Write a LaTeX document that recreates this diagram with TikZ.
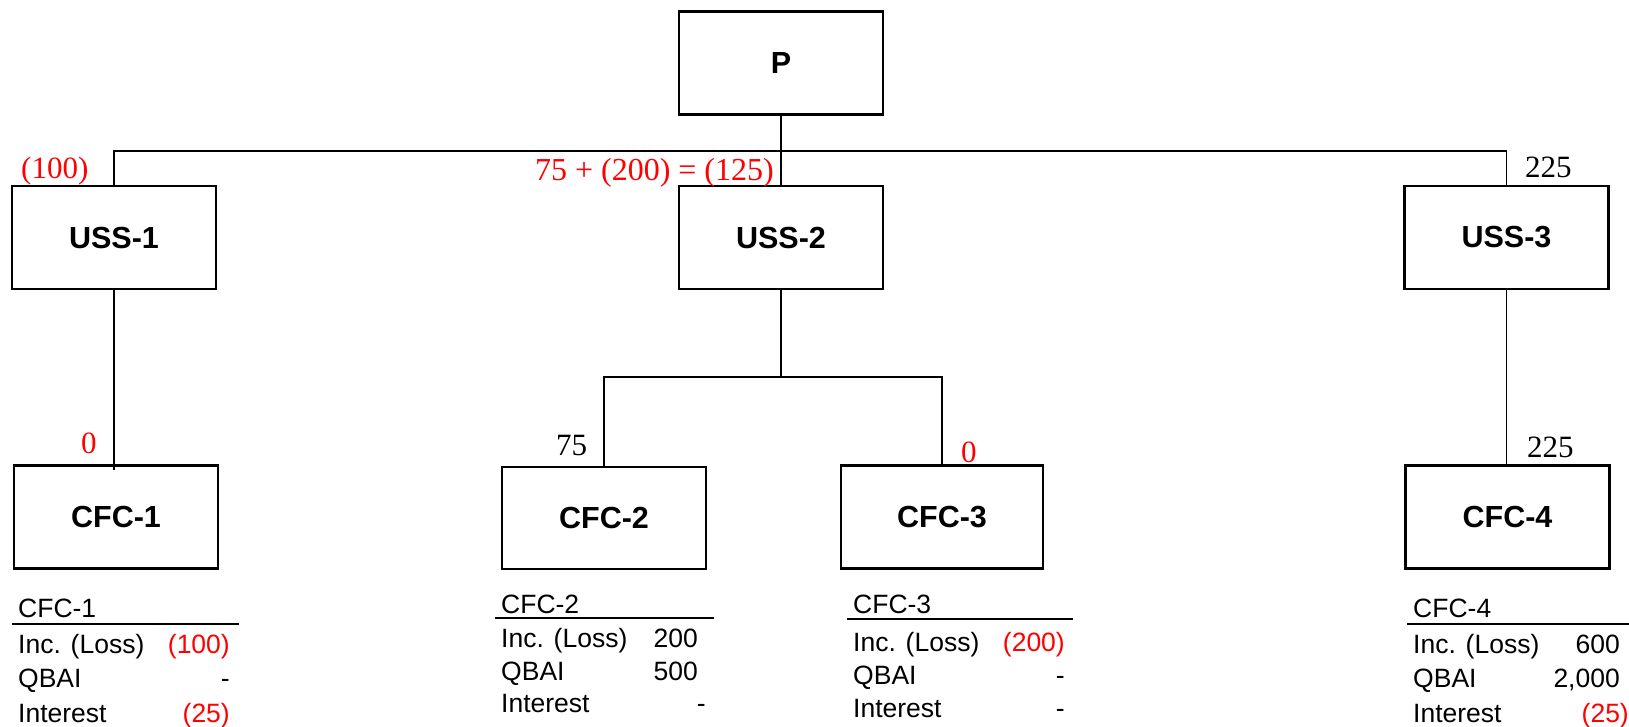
\documentclass[tikz,border=0pt]{standalone}
\usepackage{fontspec}
\setmainfont{Liberation Serif}
\newfontfamily\arialfont{Liberation Sans}
\begin{document}
\begin{tikzpicture}[x=1pt, y=-1pt,
  box/.style={draw, line width=2.2pt, minimum width=204pt, minimum height=103pt,
    inner sep=0pt, font=\arialfont\fontsize{30.5}{36}\selectfont\bfseries},
  link/.style={line width=1.3pt},
  amt/.style={inner sep=0pt, font=\fontsize{31}{36}\selectfont},
  neg/.style={amt, text=red},
  tab/.style={inner sep=0pt, font=\arialfont\fontsize{26.5}{30}\selectfont},
  tabneg/.style={tab, text=red},
  rule/.style={line width=2pt}]
\useasboundingbox (0,0) rectangle (1629,726);

% ownership boxes
\node[box] (P)    at (781,63)    {P};
\node[box] (USS1) at (114,237.5) {USS-1};
\node[box] (USS2) at (781,237.5) {USS-2};
\node[box] (USS3) at (1506.5,237.5) {USS-3};
\node[box] (CFC1) at (116,517)   {CFC-1};
\node[box, minimum height=102pt] (CFC2) at (604,518) {CFC-2};
\node[box, minimum width=202pt] (CFC3) at (942,517) {CFC-3};
\node[box] (CFC4) at (1507.5,517) {CFC-4};

% connectors
\coordinate (bus) at (781,151);
\coordinate (split) at (781,377);
\draw[link] (P.south) -- (USS2.north);
\draw[link] (USS1.north) |- (bus) -| (USS3.north);
\draw[link] (USS1.south) -- ([yshift=-6pt]USS1.south |- CFC1.north);
\draw[link] (USS2.south) -- (split);
\draw[link] (CFC2.north) |- (split) -| (CFC3.north);
\draw[link] (USS3.south) -- (USS3.south |- CFC4.north);

% amounts on the links
\node[neg, anchor=base west] (a1) at (21,178) {(100)};
\node[neg, anchor=base east, font=\fontsize{32}{36}\selectfont] (a2) at (774,180) {75 + (200) = (125)};
\node[amt, anchor=base west] (a3) at (1525,177) {225};
\node[neg, anchor=base west] (a4) at (81,453) {0};
\node[amt, anchor=base west] (a5) at (556,455) {75};
\node[neg, anchor=base west] (a6) at (961,462) {0};
\node[amt, anchor=base west] (a7) at (1527,457) {225};

% CFC-1 table
\node[tab, anchor=base west] (h1) at (18,617) {CFC-1};
\draw[rule] (12,624) -- (239,624);
\node[tab, anchor=base west] (r11) at (18,653) {Inc. (Loss)};
\node[tab, anchor=base west] (r12) at (18,687) {QBAI};
\node[tab, anchor=base west] (r13) at (18,722) {Interest};
\node[tabneg, anchor=base east] (v11) at (230,653) {(100)};
\node[tab, anchor=base east] (v12) at (230,687) {-};
\node[tabneg, anchor=base east] (v13) at (230,722) {(25)};

% CFC-2 table
\node[tab, anchor=base west] (h2) at (501,613) {CFC-2};
\draw[rule] (495,618) -- (714,618);
\node[tab, anchor=base west] (r21) at (501,647) {Inc. (Loss)};
\node[tab, anchor=base west] (r22) at (501,680) {QBAI};
\node[tab, anchor=base west] (r23) at (501,712) {Interest};
\node[tab, anchor=base east] (v21) at (698,647) {200};
\node[tab, anchor=base east] (v22) at (698,680) {500};
\node[tab, anchor=base east] (v23) at (706,712) {-};

% CFC-3 table
\node[tab, anchor=base west] (h3) at (853,613) {CFC-3};
\draw[rule] (847,619) -- (1073,619);
\node[tab, anchor=base west] (r31) at (853,651) {Inc. (Loss)};
\node[tab, anchor=base west] (r32) at (853,684) {QBAI};
\node[tab, anchor=base west] (r33) at (853,717) {Interest};
\node[tabneg, anchor=base east] (v31) at (1065,651) {(200)};
\node[tab, anchor=base east] (v32) at (1065,684) {-};
\node[tab, anchor=base east] (v33) at (1065,717) {-};

% CFC-4 table
\node[tab, anchor=base west] (h4) at (1413,617) {CFC-4};
\draw[rule] (1407,624) -- (1629,624);
\node[tab, anchor=base west] (r41) at (1413,653) {Inc. (Loss)};
\node[tab, anchor=base west] (r42) at (1413,687) {QBAI};
\node[tab, anchor=base west] (r43) at (1413,722) {Interest};
\node[tab, anchor=base east] (v41) at (1620,653) {600};
\node[tab, anchor=base east] (v42) at (1620,687) {2,000};
\node[tabneg, anchor=base east] (v43) at (1629,722) {(25)};
\end{tikzpicture}
\end{document}
